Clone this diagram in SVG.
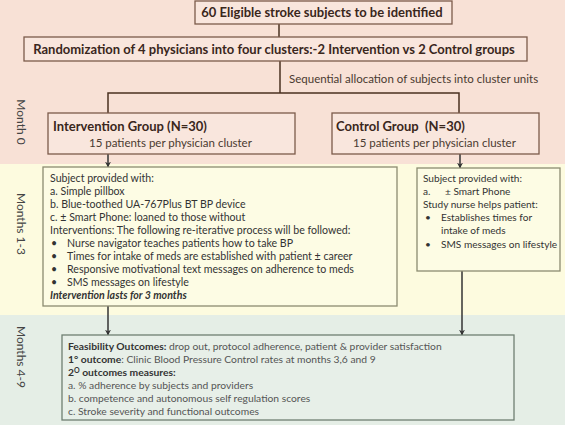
<svg xmlns="http://www.w3.org/2000/svg" width="567" height="425" viewBox="0 0 567 425">
<style>
  text { font-family: Lato, "Open Sans", "Liberation Sans", sans-serif; }
  .b0 { fill: #F8E1D6; }
  .b1 { fill: #FDFBDF; }
  .b2 { fill: #E5EEE6; }
  .pbox { fill: #F9E6DD; stroke: #7B5B4B; stroke-width: 1.3; }
  .ybox { fill: #FDFCE4; stroke: #8C8B70; stroke-width: 1.3; }
  .gbox { fill: #E7EFE8; stroke: #6F7F72; stroke-width: 1.3; }
  .ttl { font-size: 13px; font-weight: bold; fill: #3A271C; }
  .grp { font-size: 13px; font-weight: bold; fill: #3A271C; }
  .sub { font-size: 11.5px; fill: #4A3A30; }
  .body { font-size: 10.6px; fill: #333; }
  .bodyr { font-size: 10.1px; fill: #333; }
  .out { font-size: 10.3px; fill: #555; }
  .outb { font-weight: bold; fill: #333; }
  .side { font-size: 12px; fill: #444; }
  .c1 { stroke: #4A3020; stroke-width: 1.5; fill: none; }
  .c2 { stroke: #333; stroke-width: 1.5; fill: none; }
</style>
<defs>
  <marker id="ah" viewBox="0 0 10 10" refX="9" refY="5" markerWidth="6" markerHeight="6" orient="auto" markerUnits="userSpaceOnUse">
    <path d="M0,0 L10,5 L0,10 L3,5 Z" fill="#333"/>
  </marker>
</defs>
<g id="bands">
  <rect class="b0" x="0" y="0" width="565" height="164"/>
  <rect class="b1" x="0" y="164" width="565" height="151"/>
  <rect class="b2" x="0" y="315" width="565" height="110"/>
</g>
<g id="side-labels">
  <text class="side" transform="translate(17,122) rotate(90)" text-anchor="middle">Month 0</text>
  <text class="side" transform="translate(17,224) rotate(90)" text-anchor="middle">Months 1-3</text>
  <text class="side" transform="translate(17,357) rotate(90)" text-anchor="middle">Months 4-9</text>
</g>
<g id="connectors">
  <line class="c1" x1="279" y1="24" x2="279" y2="37"/>
  <line class="c1" x1="280" y1="61" x2="280" y2="93"/>
  <polyline class="c1" points="108,113 108,93 459,93 459,113"/>
  <line class="c2" x1="108" y1="154" x2="108" y2="167" marker-end="url(#ah)"/>
  <line class="c2" x1="460" y1="154" x2="460" y2="168" marker-end="url(#ah)"/>
  <line class="c2" x1="108" y1="306" x2="108" y2="335" marker-end="url(#ah)"/>
  <line class="c2" x1="462" y1="271" x2="462" y2="335" marker-end="url(#ah)"/>
  <text class="sub" x="289" y="83">Sequential allocation of subjects into cluster units</text>
</g>
<g id="eligible">
  <rect class="pbox" x="195" y="1" width="257" height="23"/>
  <text class="ttl" x="322" y="17" text-anchor="middle">60 Eligible stroke subjects to be identified</text>
</g>
<g id="randomization">
  <rect class="pbox" x="24" y="37" width="503" height="24"/>
  <text class="ttl" x="274" y="53.5" text-anchor="middle">Randomization of 4 physicians into four clusters:-2 Intervention vs 2 Control groups</text>
</g>
<g id="intervention-group">
  <rect class="pbox" x="48" y="113" width="247" height="41"/>
  <text class="grp" x="53" y="131">Intervention Group (N=30)</text>
  <text class="sub" x="89" y="147">15 patients per physician cluster</text>
</g>
<g id="control-group">
  <rect class="pbox" x="332" y="113" width="207" height="41"/>
  <text class="grp" x="336" y="131" xml:space="preserve">Control Group  (N=30)</text>
  <text class="sub" x="353" y="147">15 patients per physician cluster</text>
</g>
<g id="intervention-details">
  <rect class="ybox" x="43" y="167" width="354" height="139"/>
  <text class="body" x="50" y="182">Subject provided with:</text>
  <text class="body" x="50" y="195">a. Simple pillbox</text>
  <text class="body" x="50" y="208">b. Blue-toothed UA-767Plus BT BP device</text>
  <text class="body" x="50" y="221">c. ± Smart Phone: loaned to those without</text>
  <text class="body" x="50" y="234">Interventions: The following re-iterative process will be followed:</text>
  <text class="body" x="51" y="247">•</text>
  <text class="body" x="67" y="247">Nurse navigator teaches patients how to take BP</text>
  <text class="body" x="51" y="260">•</text>
  <text class="body" x="67" y="260">Times for intake of meds are established with patient ± career</text>
  <text class="body" x="51" y="273">•</text>
  <text class="body" x="67" y="273">Responsive motivational text messages on adherence to meds</text>
  <text class="body" x="51" y="286">•</text>
  <text class="body" x="67" y="286">SMS messages on lifestyle</text>
  <text class="body" x="50" y="299" font-weight="bold" font-style="italic">Intervention lasts for 3 months</text>
</g>
<g id="control-details">
  <rect class="ybox" x="417" y="168" width="143" height="103"/>
  <text class="bodyr" x="423" y="182">Subject provided with:</text>
  <text class="bodyr" x="423" y="195">a.</text>
  <text class="bodyr" x="445" y="195">± Smart Phone</text>
  <text class="bodyr" x="423" y="208">Study nurse helps patient:</text>
  <text class="bodyr" x="425" y="221">•</text>
  <text class="bodyr" x="441" y="221">Establishes times for</text>
  <text class="bodyr" x="441" y="234">intake of meds</text>
  <text class="bodyr" x="425" y="248">•</text>
  <text class="bodyr" x="441" y="248">SMS messages on lifestyle</text>
</g>
<g id="outcomes">
  <rect class="gbox" x="62" y="335" width="452" height="85"/>
  <text class="out" x="68" y="350"><tspan class="outb">Feasibility Outcomes:</tspan> drop out, protocol adherence, patient &amp; provider satisfaction</text>
  <text class="out" x="68" y="363"><tspan class="outb">1° outcome</tspan>: Clinic Blood Pressure Control rates at months 3,6 and 9</text>
  <text class="out" x="68" y="376"><tspan class="outb">2</tspan><tspan class="outb" font-size="7px" dy="-3.5">O</tspan><tspan class="outb" dy="3.5"> outcomes measures:</tspan></text>
  <text class="out" x="68" y="389">a. % adherence by subjects and providers</text>
  <text class="out" x="68" y="402">b. competence and autonomous self regulation scores</text>
  <text class="out" x="68" y="415">c. Stroke severity and functional outcomes</text>
</g>
</svg>
